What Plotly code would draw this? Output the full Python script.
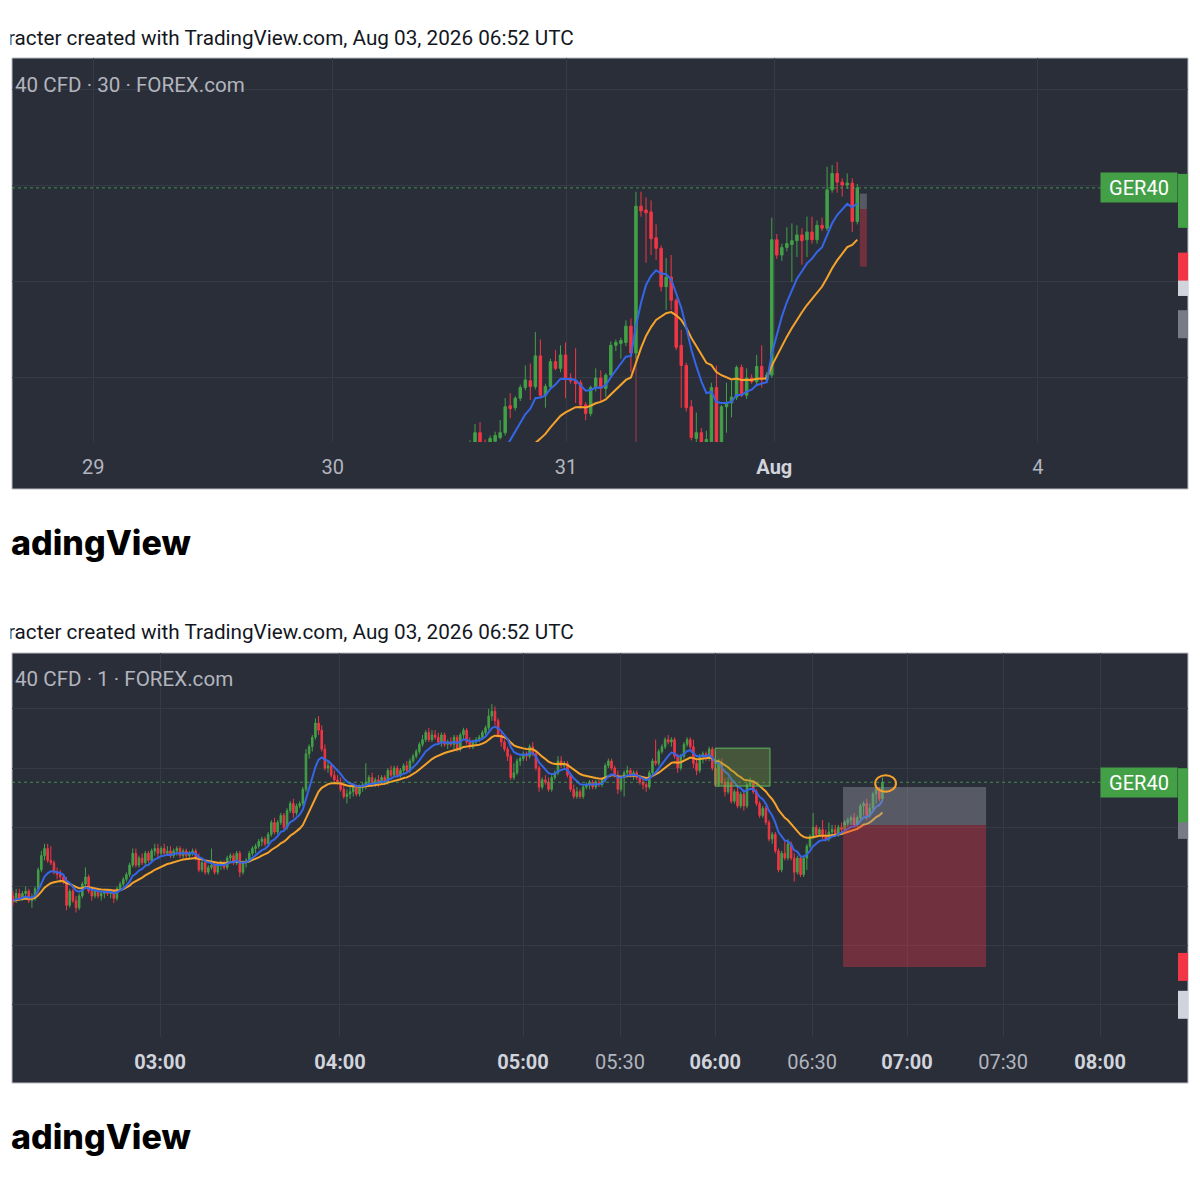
import plotly.graph_objects as go

# ---------------- DATA ----------------
# Top chart: GER40 30-minute bars (first 12 bars lie below the visible price window)
top_open = [23835,23840,23848,23855,23860,23866,23872,23878,23884,23890,23896,23902,
    23975,23983,23993,23983,23980,23984,23988,23993,24021,24019,
    24029,24040,24047,24041,24073,24032,24041,24067,24060,24074,
    24050,24047,24045,24022,24013,24040,24050,24039,24053,24084,
    24086,24087,24104,24076,24229,24225,24223,24196,24185,24145,
    24155,24131,24084,24063,24020,23987,23993,23983,23980,24040,
    23983,24020,24024,24030,24061,24032,24050,24046,24062,24048,
    24053,24194,24178,24186,24189,24193,24199,24194,24202,24194,
    24209,24206,24246,24263,24254,24251,24253,24213]
top_high = [23844,23850,23857,23862,23868,23874,23880,23886,23892,23898,23904,23912,
    23985,24002,24004,23986,23990,23994,24006,24029,24034,24031,
    24043,24063,24065,24098,24090,24044,24070,24079,24084,24087,
    24055,24081,24048,24025,24042,24060,24058,24055,24088,24090,
    24092,24110,24112,24244,24244,24238,24235,24210,24188,24175,
    24178,24133,24100,24066,24027,24014,23998,23995,24045,24063,
    24022,24045,24047,24063,24064,24060,24054,24074,24084,24056,
    24217,24200,24190,24207,24211,24209,24206,24218,24218,24214,
    24217,24270,24272,24275,24258,24263,24258,24252]
top_low = [23830,23836,23844,23851,23856,23862,23868,23874,23880,23886,23892,23898,
    23970,23980,23980,23975,23976,23980,23986,23990,24008,24016,
    24026,24037,24027,24038,24029,24019,24038,24058,24056,24029,
    24044,24024,24018,24006,24010,24036,24025,24030,24050,24078,
    24070,24083,24056,24070,24218,24170,24178,24173,24140,24121,
    24121,24079,24019,24015,23985,23983,23978,23975,23975,23975,
    23978,23993,24009,24027,24030,24028,24044,24043,24040,24045,
    24050,24174,24172,24182,24150,24176,24168,24176,24190,24190,
    24203,24203,24243,24243,24239,24247,24202,24210]
top_close = [23840,23848,23855,23860,23866,23872,23878,23884,23890,23896,23902,23908,
    23982,23993,23983,23978,23987,23990,23993,24020,24018,24029,
    24040,24048,24041,24073,24032,24041,24067,24060,24074,24050,
    24047,24044,24022,24013,24040,24050,24039,24053,24084,24087,
    24089,24104,24076,24229,24224,24222,24195,24185,24145,24155,
    24131,24082,24063,24019,23988,23993,23983,23986,24040,23983,
    24020,24024,24030,24061,24032,24050,24046,24062,24048,24053,
    24194,24178,24186,24190,24193,24199,24193,24202,24194,24209,
    24206,24246,24263,24254,24251,24253,24213,24248]

# Bottom chart: GER40 1-minute bars, 02:11 .. 06:52 UTC
bot_open = [24196,24194,24197,24195,24197,24198,24194,24195,24199,24207,
    24213,24216,24211,24210,24206,24205,24204,24202,24192,24198,
    24194,24191,24196,24201,24204,24198,24196,24198,24196,24197,
    24198,24197,24198,24195,24199,24201,24203,24205,24209,24214,
    24209,24212,24210,24214,24211,24215,24216,24214,24216,24214,
    24215,24213,24215,24216,24213,24215,24213,24214,24215,24212,
    24207,24210,24206,24208,24209,24206,24209,24210,24208,24212,
    24213,24210,24214,24206,24210,24211,24214,24216,24217,24219,
    24220,24218,24222,24227,24223,24227,24230,24225,24232,24235,
    24231,24234,24235,24241,24256,24259,24263,24269,24266,24258,
    24250,24251,24247,24245,24244,24241,24238,24239,24240,24242,
    24239,24242,24243,24244,24246,24243,24245,24244,24246,24244,
    24249,24247,24250,24247,24249,24251,24249,24253,24255,24257,
    24260,24262,24265,24262,24264,24263,24261,24264,24260,24261,
    24260,24263,24258,24264,24266,24261,24259,24261,24262,24263,
    24265,24267,24272,24274,24270,24264,24261,24258,24255,24246,
    24248,24253,24254,24256,24255,24259,24256,24250,24242,24245,
    24244,24241,24246,24248,24253,24251,24252,24247,24241,24238,
    24240,24238,24242,24243,24244,24242,24244,24243,24245,24251,
    24253,24250,24247,24241,24246,24248,24249,24247,24248,24246,
    24244,24243,24242,24248,24253,24252,24257,24259,24262,24261,
    24262,24255,24250,24255,24260,24262,24259,24252,24249,24255,
    24256,24254,24258,24250,24243,24252,24244,24240,24244,24236,
    24240,24234,24239,24234,24243,24244,24240,24235,24230,24233,
    24227,24220,24222,24215,24207,24214,24212,24218,24212,24206,
    24212,24205,24212,24217,24221,24225,24222,24224,24221,24220,
    24223,24224,24222,24225,24224,24227,24228,24229,24226,24229,
    24234,24235,24230,24233,24239,24241,24237]
bot_high = [24198,24199,24199,24198,24200,24199,24197,24200,24208,24215,
    24218,24218,24217,24211,24208,24207,24205,24204,24199,24199,
    24196,24197,24202,24208,24205,24200,24199,24199,24198,24199,
    24199,24199,24199,24200,24202,24204,24206,24210,24216,24216,
    24213,24214,24215,24215,24216,24218,24218,24217,24218,24217,
    24217,24216,24217,24217,24216,24216,24215,24216,24216,24214,
    24211,24211,24209,24216,24210,24210,24211,24211,24213,24214,
    24214,24215,24215,24211,24212,24215,24217,24218,24220,24221,
    24221,24223,24228,24229,24228,24231,24231,24233,24236,24237,
    24235,24236,24242,24258,24260,24264,24271,24272,24268,24260,
    24253,24252,24249,24247,24246,24243,24241,24242,24243,24243,
    24243,24244,24252,24247,24248,24246,24247,24247,24247,24250,
    24251,24251,24251,24250,24252,24253,24254,24256,24258,24261,
    24264,24266,24267,24266,24266,24265,24265,24265,24262,24263,
    24264,24264,24265,24267,24267,24263,24262,24263,24264,24266,
    24268,24275,24277,24276,24271,24265,24262,24259,24256,24252,
    24254,24255,24257,24257,24260,24261,24257,24251,24246,24247,
    24246,24247,24249,24255,24255,24253,24253,24248,24243,24242,
    24241,24243,24244,24245,24245,24245,24245,24246,24252,24254,
    24254,24251,24249,24247,24249,24251,24250,24249,24249,24247,
    24246,24244,24249,24254,24262,24258,24260,24263,24264,24263,
    24263,24256,24256,24261,24263,24263,24262,24254,24256,24257,
    24257,24259,24259,24257,24254,24254,24246,24246,24246,24241,
    24242,24240,24241,24244,24246,24245,24241,24236,24234,24234,
    24228,24223,24223,24216,24215,24219,24220,24219,24214,24213,
    24213,24213,24218,24222,24231,24226,24225,24228,24224,24227,
    24226,24226,24226,24227,24228,24229,24230,24231,24230,24235,
    24236,24237,24235,24240,24242,24242,24246]
bot_low = [24192,24193,24194,24194,24195,24193,24191,24194,24198,24206,
    24211,24210,24209,24205,24203,24202,24201,24190,24191,24193,
    24189,24190,24195,24200,24197,24194,24195,24195,24194,24195,
    24196,24195,24193,24194,24198,24200,24202,24204,24208,24208,
    24208,24209,24209,24210,24210,24213,24212,24213,24213,24213,
    24212,24212,24213,24212,24212,24212,24212,24213,24211,24206,
    24206,24205,24205,24207,24205,24205,24207,24207,24207,24210,
    24209,24209,24204,24205,24208,24210,24213,24214,24216,24217,
    24217,24217,24221,24222,24222,24226,24224,24224,24231,24229,
    24230,24233,24234,24240,24254,24257,24262,24264,24257,24249,
    24248,24246,24244,24243,24240,24237,24235,24237,24238,24238,
    24238,24240,24241,24242,24242,24242,24242,24243,24243,24243,
    24246,24246,24246,24246,24248,24248,24248,24252,24254,24256,
    24259,24261,24261,24261,24262,24260,24259,24259,24258,24259,
    24258,24257,24257,24262,24260,24258,24258,24260,24261,24262,
    24264,24266,24270,24268,24263,24259,24257,24253,24245,24245,
    24247,24251,24253,24253,24254,24255,24249,24240,24241,24243,
    24240,24240,24245,24247,24250,24250,24246,24240,24237,24237,
    24237,24237,24241,24241,24241,24241,24242,24242,24244,24250,
    24249,24246,24239,24240,24238,24246,24246,24245,24245,24243,
    24241,24240,24241,24247,24251,24251,24256,24258,24260,24259,
    24254,24248,24249,24254,24259,24258,24250,24247,24248,24252,
    24253,24253,24249,24242,24242,24243,24238,24239,24235,24235,
    24233,24233,24232,24233,24242,24239,24234,24229,24229,24226,
    24219,24218,24214,24206,24206,24211,24211,24211,24202,24205,
    24204,24204,24207,24216,24220,24221,24221,24220,24219,24219,
    24221,24221,24221,24223,24223,24225,24226,24225,24225,24228,
    24230,24228,24229,24232,24235,24236,24236]
bot_close = [24194,24197,24195,24197,24198,24194,24195,24199,24207,24213,
    24216,24211,24210,24206,24205,24204,24202,24192,24198,24194,
    24191,24196,24201,24204,24198,24196,24198,24196,24197,24198,
    24197,24198,24195,24199,24201,24203,24205,24209,24214,24209,
    24212,24210,24214,24211,24215,24216,24214,24216,24214,24215,
    24213,24215,24216,24213,24215,24213,24214,24215,24212,24207,
    24210,24206,24208,24209,24206,24209,24210,24208,24212,24213,
    24210,24214,24206,24210,24211,24214,24216,24217,24219,24220,
    24218,24222,24227,24223,24227,24230,24225,24232,24235,24231,
    24234,24235,24241,24256,24259,24263,24269,24266,24258,24250,
    24251,24247,24245,24244,24241,24238,24239,24240,24242,24239,
    24242,24243,24244,24246,24243,24245,24244,24246,24244,24249,
    24247,24250,24247,24249,24251,24249,24253,24255,24257,24260,
    24262,24265,24262,24264,24263,24261,24264,24260,24261,24260,
    24263,24258,24264,24266,24261,24259,24261,24262,24263,24265,
    24267,24272,24274,24270,24264,24261,24258,24255,24246,24248,
    24253,24254,24256,24255,24259,24256,24250,24242,24245,24244,
    24241,24246,24248,24253,24251,24252,24247,24241,24238,24240,
    24238,24242,24243,24244,24242,24244,24243,24245,24251,24253,
    24250,24247,24241,24246,24248,24249,24247,24248,24246,24244,
    24243,24242,24248,24253,24252,24257,24259,24262,24261,24262,
    24255,24250,24255,24260,24262,24259,24252,24249,24255,24256,
    24254,24258,24250,24243,24252,24244,24240,24244,24236,24240,
    24234,24239,24234,24243,24244,24240,24235,24230,24233,24227,
    24220,24222,24215,24207,24214,24212,24218,24212,24206,24212,
    24205,24212,24217,24221,24225,24222,24224,24221,24220,24223,
    24224,24222,24225,24224,24227,24228,24229,24226,24229,24234,
    24235,24230,24233,24239,24241,24237,24244]

# time-axis labels (positions in bar-index units)
top_tick_pos = [-62.9, -15.3, 31.1, 72.5, 124.9]
top_tick_text = ["29", "30", "31", "Aug", "4"]
top_tick_bold = [False, False, False, True, False]
bot_tick_pos = [46.7, 103.8, 161.9, 192.7, 222.9, 253.7, 283.8, 314.3, 345.1]
bot_tick_text = ["03:00", "04:00", "05:00", "05:30", "06:00", "06:30", "07:00", "07:30", "08:00"]
bot_tick_bold = [True, True, True, False, True, False, True, False, True]

# price grid levels
top_grid = [24350, 24250, 24150, 24050]
bot_grid = [24275, 24250, 24225, 24200, 24175, 24150]

# drawings
pos_entry, pos_target, pos_stop = 24226, 24242, 24166
top_pos_bars = [89.5, 90.9]
bot_pos_bars = [263.5, 308.9]
zone_bars = [222.9, 240.3]
zone_prices = [24242.4, 24258.4]
mark_bars = [273.7, 280.3]
mark_prices = [24240, 24247]
top_vline_bar = 45
scale_label_prices = [24150, 24106]

EMA_FAST, EMA_SLOW = 9, 21

# ---------------- STYLE ----------------
PANEL = "#2a2e39"
GRID = "#363a45"
UP = "#43a047"
DOWN = "#f23645"
BLUE = "#3566e8"
ORANGE = "#f6a32b"
TXT = "#b2b5be"
FONT = "Roboto"

# the page body has an 8px margin; the figure is sized so that it ends at the window edge
OFF = 8
FIG = 1200 - OFF


def fx(px):
    return (px - OFF) / float(FIG)


def fy(py):
    return 1 - (py - OFF) / float(FIG)


def ema(vals, n):
    a = 2.0 / (n + 1)
    out, e = [], vals[0]
    for v in vals:
        e = a * v + (1 - a) * e
        out.append(e)
    return out


def ticktexts(texts, bold):
    res = []
    for t, b in zip(texts, bold):
        if b:
            res.append("<b><span style='color:#d1d4dc'>%s</span></b>" % t)
        else:
            res.append(t)
    return res


fig = go.Figure()

panels = [("x", "y", top_open, top_high, top_low, top_close),
          ("x2", "y2", bot_open, bot_high, bot_low, bot_close)]
for xa, ya, o, h, l, c in panels:
    xs = list(range(len(c)))
    fig.add_trace(go.Candlestick(
        x=xs, open=o, high=h, low=l, close=c, xaxis=xa, yaxis=ya,
        increasing=dict(line=dict(color=UP, width=1), fillcolor=UP),
        decreasing=dict(line=dict(color=DOWN, width=1), fillcolor=DOWN),
        whiskerwidth=0, showlegend=False, hoverinfo="skip"))
    fig.add_trace(go.Scatter(x=xs, y=ema(c, EMA_SLOW), mode="lines", xaxis=xa, yaxis=ya,
                             line=dict(color=ORANGE, width=2), showlegend=False, hoverinfo="skip"))
    fig.add_trace(go.Scatter(x=xs, y=ema(c, EMA_FAST), mode="lines", xaxis=xa, yaxis=ya,
                             line=dict(color=BLUE, width=2), showlegend=False, hoverinfo="skip"))

TOP_YR = [23983.3, 24383.3]
BOT_YR = [24136.4, 24298.6]

axis_common = dict(showgrid=True, gridcolor=GRID, gridwidth=1, zeroline=False,
                   showline=False, ticks="", fixedrange=True)

fig.update_layout(
    width=FIG, height=FIG, margin=dict(l=0, r=0, t=0, b=0),
    paper_bgcolor="white", plot_bgcolor="rgba(0,0,0,0)", hovermode=False,
    xaxis=dict(domain=[fx(12), fx(1188)], anchor="y", range=[-79.05, 154.75],
               tickmode="array", tickvals=top_tick_pos,
               ticktext=ticktexts(top_tick_text, top_tick_bold),
               tickfont=dict(family=FONT, size=20, color=TXT), ticklabelstandoff=11,
               rangeslider=dict(visible=False), **axis_common),
    yaxis=dict(domain=[fy(442), fy(58)], anchor="x", range=TOP_YR,
               tickmode="array", tickvals=top_grid, showticklabels=False, **axis_common),
    xaxis2=dict(domain=[fx(12), fx(1188)], anchor="y2", range=[-0.32, 373.0],
                tickmode="array", tickvals=bot_tick_pos,
                ticktext=ticktexts(bot_tick_text, bot_tick_bold),
                tickfont=dict(family=FONT, size=20, color=TXT), ticklabelstandoff=11,
                rangeslider=dict(visible=False), **axis_common),
    yaxis2=dict(domain=[fy(1037), fy(653)], anchor="x2", range=BOT_YR,
                tickmode="array", tickvals=bot_grid, showticklabels=False, **axis_common),
)

shapes = []
# dark panels
for top, bot in [(58, 489), (653, 1083)]:
    shapes.append(dict(type="rect", xref="paper", yref="paper", x0=fx(12), x1=fx(1188),
                       y0=fy(bot), y1=fy(top), fillcolor=PANEL,
                       line=dict(color="#b8bbc2", width=1), layer="below"))

# vertical marker line on the big 30m bar
shapes.append(dict(type="line", xref="x", yref="y", x0=top_vline_bar, x1=top_vline_bar,
                   y0=TOP_YR[0], y1=top_open[top_vline_bar],
                   line=dict(color="rgba(190,60,75,0.85)", width=1), layer="below"))

for xa, ya, closes, pos_bars in [("x", "y", top_close, top_pos_bars),
                                  ("x2", "y2", bot_close, bot_pos_bars)]:
    last = closes[-1]
    # dotted last price line
    shapes.append(dict(type="line", xref="paper", yref=ya, x0=fx(12), x1=fx(1101),
                       y0=last, y1=last, line=dict(color="rgba(76,175,80,0.75)", width=1, dash="dot")))
    # position tool
    shapes.append(dict(type="rect", xref=xa, yref=ya, x0=pos_bars[0], x1=pos_bars[1],
                       y0=pos_entry, y1=pos_target, fillcolor="rgba(149,152,161,0.42)",
                       line=dict(width=0), layer="above"))
    shapes.append(dict(type="rect", xref=xa, yref=ya, x0=pos_bars[0], x1=pos_bars[1],
                       y0=pos_stop, y1=pos_entry, fillcolor="rgba(242,54,69,0.36)",
                       line=dict(width=0), layer="above"))
    # cut-off price-scale labels at the right edge
    lbls = [(scale_label_prices[0], "#d1d4dc", 14, -14),
            (scale_label_prices[1], "#787b86", 14, -14),
            (pos_entry, "#787b86", 14, -14),
            (pos_stop, DOWN, 14, -14),
            (last, UP, 14, -40)]
    for price, col, up_px, dn_px in lbls:
        shapes.append(dict(type="rect", xref="paper", yref=ya, ysizemode="pixel",
                           yanchor=price, x0=fx(1178), x1=fx(1188), y0=dn_px, y1=up_px,
                           fillcolor=col, line=dict(width=0), layer="above"))

# green zone box and orange ellipse (1m chart)
shapes.append(dict(type="rect", xref="x2", yref="y2", x0=zone_bars[0], x1=zone_bars[1],
                   y0=zone_prices[0], y1=zone_prices[1], fillcolor="rgba(120,160,60,0.35)",
                   line=dict(color="#5cb85c", width=1), layer="above"))
shapes.append(dict(type="circle", xref="x2", yref="y2", x0=mark_bars[0], x1=mark_bars[1],
                   y0=mark_prices[0], y1=mark_prices[1],
                   line=dict(color=ORANGE, width=2), layer="above"))

annotations = []
for ytxt, ylogo in [(38, 542), (632, 1136)]:
    annotations.append(dict(xref="paper", yref="paper", x=fx(6), y=fy(ytxt), xanchor="left",
                            yanchor="middle", showarrow=False,
                            text="racter created with TradingView.com, Aug 03, 2026 06:52 UTC",
                            font=dict(family=FONT, size=20.7, color="#131722")))
    # the snapshot is cropped at the left edge: hide the stem of the first letter
    annotations.append(dict(xref="paper", yref="paper", x=fx(0), y=fy(ytxt), xanchor="left",
                            yanchor="middle", showarrow=False, text=" ",
                            bgcolor="#ffffff", width=9, height=26, borderpad=0,
                            font=dict(size=10)))
    annotations.append(dict(xref="paper", yref="paper", x=fx(9), y=fy(ylogo), xanchor="left",
                            yanchor="middle", showarrow=False, text="adingView",
                            font=dict(family="Inter", size=34, color="#000000", weight=800)))
for ytxt, tf in [(85, "30"), (679, "1")]:
    annotations.append(dict(xref="paper", yref="paper", x=fx(13), y=fy(ytxt), xanchor="left",
                            yanchor="middle", showarrow=False,
                            text="40 CFD · %s · FOREX.com" % tf,
                            font=dict(family=FONT, size=20.6, color=TXT)))
for ya, closes in [("y", top_close), ("y2", bot_close)]:
    annotations.append(dict(xref="paper", yref=ya, x=fx(1139), y=closes[-1], xanchor="center",
                            yanchor="middle", showarrow=False, text="GER40",
                            font=dict(family=FONT, size=20, color="#ffffff"),
                            bgcolor=UP, width=74, height=27, borderpad=1))

fig.update_layout(shapes=shapes, annotations=annotations)
fig.write_html("out.html")
